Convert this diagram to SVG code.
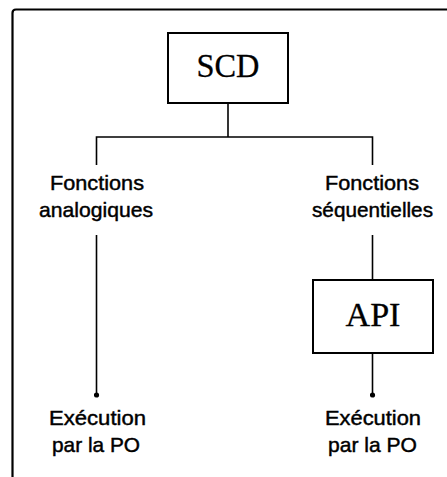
<svg xmlns="http://www.w3.org/2000/svg" width="447" height="477" viewBox="0 0 447 477">
  <style>
    .frame { fill: none; stroke: #000; stroke-width: 2.2; }
    .box { fill: #fff; stroke: #000; stroke-width: 2; }
    .wire { fill: none; stroke: #000; stroke-width: 1.6; }
    .title { font-family: "Liberation Serif", "Times New Roman", serif; font-size: 33px; text-anchor: middle; fill: #000; stroke: #000; stroke-width: 0.3; }
    .label { font-family: "Liberation Sans", Arial, sans-serif; font-size: 21px; text-anchor: middle; fill: #000; stroke: #000; stroke-width: 0.45; }
  </style>
  <defs>
    <marker id="dot" viewBox="0 0 6 6" refX="3" refY="3" markerWidth="6" markerHeight="6" markerUnits="userSpaceOnUse">
      <circle cx="3" cy="3" r="2.6" fill="#000"/>
    </marker>
  </defs>
  <rect width="447" height="477" fill="#fff"/>

  <!-- outer frame, open on the right and bottom -->
  <path class="frame" d="M12.5,477 V13 Q12.5,9.5 16,9.5 H447"/>

  <g id="connectors">
    <path class="wire" d="M228,103 V137"/>
    <path class="wire" d="M96.5,165 V137 H372.5 V165"/>
    <path class="wire" d="M96.5,235 V395" marker-end="url(#dot)"/>
    <path class="wire" d="M372.5,235 V280"/>
    <path class="wire" d="M372.5,353 V395" marker-end="url(#dot)"/>
  </g>

  <g id="scd">
    <rect class="box" x="168" y="33" width="120" height="70"/>
    <text class="title" x="228" y="77" textLength="63" lengthAdjust="spacingAndGlyphs">SCD</text>
  </g>

  <g id="fonctions-analogiques">
    <text class="label" x="97" y="190" textLength="94" lengthAdjust="spacingAndGlyphs">Fonctions</text>
    <text class="label" x="96" y="217" textLength="114" lengthAdjust="spacingAndGlyphs">analogiques</text>
  </g>

  <g id="fonctions-sequentielles">
    <text class="label" x="372" y="190" textLength="94" lengthAdjust="spacingAndGlyphs">Fonctions</text>
    <text class="label" x="372.5" y="217" textLength="121" lengthAdjust="spacingAndGlyphs">séquentielles</text>
  </g>

  <g id="api">
    <rect class="box" x="313" y="280" width="120" height="73"/>
    <text class="title" x="373" y="326" textLength="55" lengthAdjust="spacingAndGlyphs">API</text>
  </g>

  <g id="execution-gauche">
    <text class="label" x="97.5" y="425" textLength="97" lengthAdjust="spacingAndGlyphs">Exécution</text>
    <text class="label" x="96" y="452" textLength="88" lengthAdjust="spacingAndGlyphs">par la PO</text>
  </g>

  <g id="execution-droite">
    <text class="label" x="373" y="425" textLength="96" lengthAdjust="spacingAndGlyphs">Exécution</text>
    <text class="label" x="372.5" y="452" textLength="89" lengthAdjust="spacingAndGlyphs">par la PO</text>
  </g>
</svg>
